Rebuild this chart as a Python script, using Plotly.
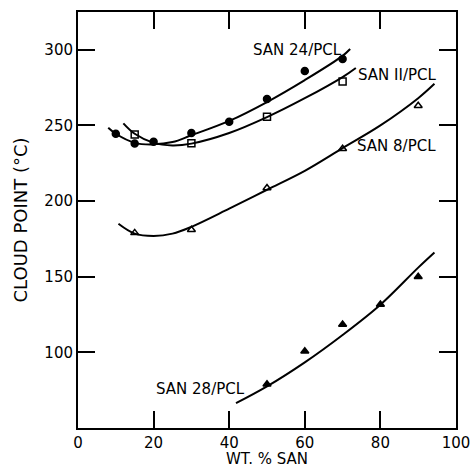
import plotly.graph_objects as go

# Measured points
san24_x = [10, 15, 20, 30, 40, 50, 60, 70]
san24_y = [244.5, 238, 239.3, 245, 252.5, 267.5, 286, 294]
san11_x = [15, 30, 50, 70]
san11_y = [244, 238.3, 255.8, 279]
san8_x = [15, 30, 50, 70, 90]
san8_y = [179, 181, 208.7, 234.6, 263]
san28_x = [50, 60, 70, 80, 90]
san28_y = [79, 100.7, 118.4, 131.6, 150]

# Fitted curves as drawn
c24_x = [8, 10, 15, 20, 25, 30, 40, 50, 60, 70, 72]
c24_y = [248.5, 244.5, 238.5, 237.5, 239, 243.5, 253, 265.5, 280, 296, 300.5]
c11_x = [12, 15, 20, 25, 30, 40, 50, 60, 70, 73.5]
c11_y = [251.4, 244.5, 238.5, 236.8, 238, 245, 255.5, 268, 282, 288]
c8_x = [10.7, 15, 20, 25, 30, 40, 50, 60, 70, 80, 90, 94.3]
c8_y = [185, 178.5, 177, 178.5, 183, 195, 207.5, 220, 235, 250, 268, 277.5]
c28_x = [41.8, 50, 60, 70, 80, 90, 94.3]
c28_y = [66.4, 77.5, 93.4, 111.5, 131.5, 156, 166]

labels = ["SAN 24/PCL", "SAN II/PCL", "SAN 8/PCL", "SAN 28/PCL"]
label_x = [58, 84.3, 84.3, 32.4]
label_y = [300, 283.4, 236.6, 75.7]

x_ticks = [0, 20, 40, 60, 80, 100]
y_ticks = [100, 150, 200, 250, 300]

FONT = "DejaVu Sans"
fig = go.Figure()

for cx, cy in [(c24_x, c24_y), (c11_x, c11_y), (c8_x, c8_y), (c28_x, c28_y)]:
    fig.add_trace(go.Scatter(x=cx, y=cy, mode="lines",
                             line=dict(color="black", width=2, shape="spline", smoothing=1.0),
                             showlegend=False, hoverinfo="skip"))

marker_specs = [
    (san24_x, san24_y, "circle", "black"),
    (san11_x, san11_y, "square-open", "black"),
    (san8_x, san8_y, "triangle-up-open", "black"),
    (san28_x, san28_y, "triangle-up", "black"),
]
for mx, my, sym, col in marker_specs:
    fig.add_trace(go.Scatter(x=mx, y=my, mode="markers",
                             marker=dict(symbol=sym, size=7, color=col,
                                         line=dict(color="black", width=1.5)),
                             showlegend=False))

for t, lx, ly in zip(labels, label_x, label_y):
    fig.add_annotation(x=lx, y=ly, text=t, showarrow=False,
                       font=dict(family=FONT, size=15, color="black"))

# x-axis title placed as paper annotation below tick labels
fig.add_annotation(x=0.5, y=-0.075, xref="paper", yref="paper", text="WT. % SAN",
                   showarrow=False, yanchor="middle",
                   font=dict(family=FONT, size=15, color="black"))

axis_common = dict(showline=True, linecolor="black", linewidth=2, mirror="ticks",
                   ticks="inside", ticklen=17, tickwidth=1.5, tickcolor="black",
                   showgrid=False, zeroline=False,
                   tickfont=dict(family=FONT, size=15, color="black"))

fig.update_xaxes(range=[0, 100], tickvals=x_ticks, **axis_common)
fig.update_yaxes(range=[50, 325], tickvals=y_ticks,
                 title=dict(text="CLOUD POINT (°C)", font=dict(family=FONT, size=18, color="black"), standoff=12),
                 **axis_common)

fig.update_layout(width=472, height=468,
                  margin=dict(l=78, r=16, t=12, b=40, autoexpand=False),
                  plot_bgcolor="white", paper_bgcolor="white")

fig.write_html("out.html")
